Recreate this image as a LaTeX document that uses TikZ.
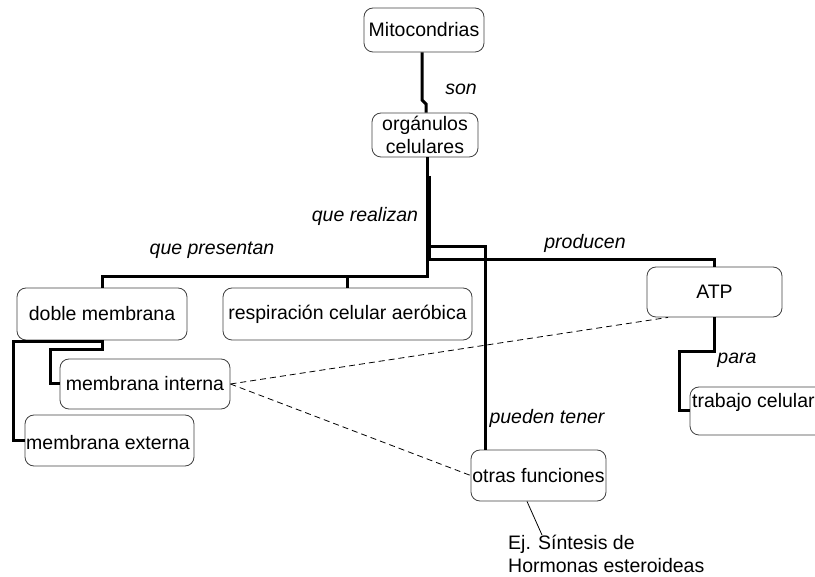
\documentclass[tikz,border=0pt]{standalone}
\usepackage{fontspec}
\setmainfont{Liberation Sans}
\begin{document}
\begin{tikzpicture}[x=1pt,y=-1pt,
  every node/.style={font=\fontsize{19.5}{23}\selectfont, inner sep=0pt},
  box/.style={draw=black!75, line width=0.8pt, rounded corners=9pt},
  lbl/.style={font=\fontsize{19.5}{23}\selectfont\itshape},
  conn/.style={line width=3pt, line join=miter},
  dsh/.style={line width=0.8pt, dash pattern=on 6pt off 4pt},
  thin/.style={line width=0.8pt}]
\useasboundingbox (0,0) rectangle (815,577);
\clip (0,0) rectangle (815,577);
% boxes
\node[box, minimum width=120pt, minimum height=44pt] (mito) at (424,30) {Mitocondrias};
\node[box, minimum width=106pt, minimum height=44pt, align=center] (org) at (425,135) {orgánulos\\celulares};
\node[box, minimum width=170pt, minimum height=52pt] (doble) at (102,314) {doble membrana};
\node[box, minimum width=249pt, minimum height=52pt] (resp) at (347.5,314) {respiración celular aeróbica};
\node[box, minimum width=135pt, minimum height=50pt] (atp) at (714.5,292) {ATP};
\node[box, minimum width=170pt, minimum height=50pt] (mint) at (145,384) {membrana interna};
\node[box, minimum width=169pt, minimum height=51pt] (mext) at (109.5,440.5) {};
\node[anchor=west] (mextt) at (26,443) {membrana externa};
\node[box, minimum width=135pt, minimum height=51pt] (otras) at (538.5,475.5) {otras funciones};
\node[box, minimum width=150pt, minimum height=48pt] (trab) at (765,411) {};
\node[anchor=west] (trabt) at (692,402) {trabajo celular};
\node[anchor=north west, align=left] (ej) at (508,535) {Ej. Síntesis de\\Hormonas esteroideas};
% labels
\node[lbl] (lson) at (461,89) {son};
\node[lbl] (lreal) at (365,216) {que realizan};
\node[lbl] (lpres) at (212,250) {que presentan};
\node[lbl] (lprod) at (585,243) {producen};
\node[lbl] (lpara) at (737,360) {para};
\node[lbl] (lpued) at (547,418) {pueden tener};
% junction coordinates
\coordinate (j1) at (422,100);
\coordinate (j2) at (426,104);
\coordinate (hp) at (427,277);
\coordinate (hq) at (428,247);
\coordinate (hq2) at (485,247);
\coordinate (hr) at (428,260);
\coordinate (v1) at (429.5,176);
\coordinate (a1) at (679,352);
\coordinate (d1) at (13,342);
\coordinate (d2) at (50,350);
% connectors
\draw[conn] (mito.south -| j1) -- (j1) -- (j2) -- (org.north -| j2);
\draw[conn] (org.south -| hp) -- (hp) -| (doble.north);
\draw[conn] (resp.north) -- (resp.north |- hp);
\draw[conn] (v1) -- (v1 |- hr);
\draw[conn] (hq) -- (hq2) -- (otras.north -| hq2);
\draw[conn] (hr) -| (atp.north);
\draw[conn] (atp.south) |- (a1) |- (trab.west);
\draw[conn] (doble.south) -- (doble.south |- d2) -- (d2) |- (mint.west);
\draw[conn] (doble.south |- d1) -- (d1) |- (mext.west);
% dashed
\draw[dsh] (mint.east) -- (atp.south -| 668,0);
\draw[dsh] (mint.east) -- (otras.west);
% thin
\draw[thin] (otras.south -| 527,0) -- ([xshift=34pt]ej.north west);
\end{tikzpicture}
\end{document}
